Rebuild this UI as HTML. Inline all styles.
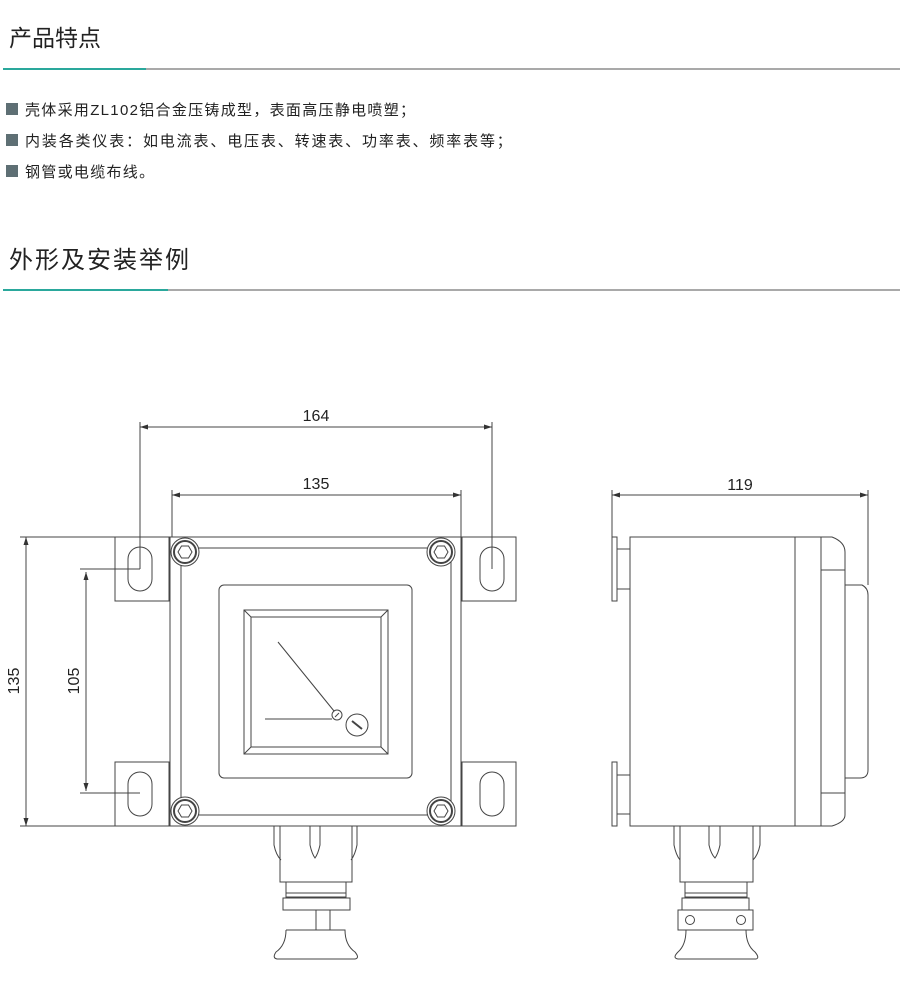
<!DOCTYPE html>
<html><head><meta charset="utf-8"><style>
html,body{margin:0;padding:0;background:#fff;}
body{width:900px;height:1000px;position:relative;overflow:hidden;font-family:"Liberation Sans","Noto Sans CJK SC",sans-serif;}
svg{position:absolute;left:0;top:0;}
</style></head><body>
<svg width="900" height="1000" viewBox="0 0 900 1000" xmlns="http://www.w3.org/2000/svg">
<g font-family="Liberation Sans, Noto Sans CJK SC, sans-serif" fill="#222">
<text x="9" y="46" font-size="23" letter-spacing="0">产品特点</text>
<text x="9" y="268" font-size="24" letter-spacing="2">外形及安装举例</text>
</g>
<rect x="3" y="68" width="897" height="2" fill="#a9a9a9"/>
<rect x="3" y="68" width="143" height="2" fill="#2aa89c"/>
<rect x="3" y="289" width="897" height="2" fill="#a9a9a9"/>
<rect x="3" y="289" width="165" height="2" fill="#2aa89c"/>
<g fill="#5e6f74">
<rect x="6" y="103" width="12" height="12"/>
<rect x="6" y="134" width="12" height="12"/>
<rect x="6" y="165" width="12" height="12"/>
</g>
<g font-family="Liberation Sans, Noto Sans CJK SC, sans-serif" font-size="15" fill="#222">
<text x="25" y="115" letter-spacing="1.3">壳体采用ZL102铝合金压铸成型，表面高压静电喷塑；</text>
<text x="25" y="146" letter-spacing="1.85">内装各类仪表：如电流表、电压表、转速表、功率表、频率表等；</text>
<text x="25" y="177" letter-spacing="1.3">钢管或电缆布线。</text>
</g>

<g stroke="#444" stroke-width="1" fill="none">
<line x1="140" y1="422" x2="140" y2="569"/>
<line x1="492" y1="422" x2="492" y2="569"/>
<line x1="140" y1="427" x2="492" y2="427"/>
<line x1="172" y1="490" x2="172" y2="537"/>
<line x1="461" y1="490" x2="461" y2="537"/>
<line x1="172" y1="495" x2="461" y2="495"/>
<line x1="20" y1="537" x2="170" y2="537"/>
<line x1="20" y1="826" x2="170" y2="826"/>
<line x1="26" y1="537" x2="26" y2="826"/>
<line x1="80" y1="569" x2="140" y2="569"/>
<line x1="80" y1="793" x2="140" y2="793"/>
<line x1="86" y1="572" x2="86" y2="791"/>
<rect x="115" y="537" width="54" height="64"/>
<rect x="115" y="762" width="54" height="64"/>
<rect x="462" y="537" width="54" height="64"/>
<rect x="462" y="762" width="54" height="64"/>
<rect x="128" y="547" width="24" height="44" rx="12"/>
<rect x="128" y="772" width="24" height="44" rx="12"/>
<rect x="480" y="547" width="24" height="44" rx="12"/>
<rect x="480" y="772" width="24" height="44" rx="12"/>
<rect x="170" y="537" width="291" height="289"/>
<rect x="181" y="548" width="270" height="267" rx="10"/>
<rect x="219" y="585" width="193" height="193" rx="5"/>
<rect x="244" y="610" width="144" height="144"/>
<rect x="251" y="617" width="130" height="130"/>
<line x1="244" y1="610" x2="251" y2="617"/><line x1="388" y1="610" x2="381" y2="617"/>
<line x1="244" y1="754" x2="251" y2="747"/><line x1="388" y1="754" x2="381" y2="747"/>
<line x1="278" y1="642" x2="334" y2="711"/>
<line x1="265" y1="719" x2="332" y2="719"/>
<circle cx="337" cy="715" r="5"/>
<line x1="335" y1="717" x2="339" y2="713"/>
<circle cx="357" cy="725" r="11"/>
<line x1="352" y1="721" x2="362" y2="729" stroke-width="2"/>
</g>
<g stroke="#444" fill="#fff" stroke-width="1">
<g><circle cx="185" cy="552" r="14"/><circle cx="185" cy="552" r="11" stroke-width="2"/><polygon points="178,552 181.5,546 188.5,546 192,552 188.5,558 181.5,558"/></g>
<g transform="translate(256,0)"><circle cx="185" cy="552" r="14"/><circle cx="185" cy="552" r="11" stroke-width="2"/><polygon points="178,552 181.5,546 188.5,546 192,552 188.5,558 181.5,558"/></g>
<g transform="translate(0,259)"><circle cx="185" cy="552" r="14"/><circle cx="185" cy="552" r="11" stroke-width="2"/><polygon points="178,552 181.5,546 188.5,546 192,552 188.5,558 181.5,558"/></g>
<g transform="translate(256,259)"><circle cx="185" cy="552" r="14"/><circle cx="185" cy="552" r="11" stroke-width="2"/><polygon points="178,552 181.5,546 188.5,546 192,552 188.5,558 181.5,558"/></g>
</g>
<g stroke="#444" fill="none" stroke-width="1">
<path d="M274,826 V845 Q276,855 281,860"/>
<path d="M357,826 V845 Q355,855 351,860"/>
<rect x="280" y="826" width="72" height="56"/>
<path d="M310,826 V845 Q312,854 315,858 Q318,854 320,845 V826"/>
<rect x="286" y="882" width="60" height="15"/>
<line x1="286" y1="893" x2="346" y2="893"/>
<rect x="283" y="898" width="67" height="12"/>
<rect x="316" y="910" width="14" height="20"/>
<path d="M286,930 H316 M330,930 H345 Q345,945 355,952 Q360,958 355,959 H277 Q272,958 276,952 Q286,945 286,930"/>
</g>
<g stroke="#444" fill="none" stroke-width="1">
<line x1="612" y1="490" x2="612" y2="537"/>
<line x1="868" y1="490" x2="868" y2="585"/>
<line x1="612" y1="495" x2="868" y2="495"/>
<rect x="612" y="537" width="5" height="64"/>
<rect x="612" y="762" width="5" height="64"/>
<rect x="617" y="549" width="13" height="40"/>
<rect x="617" y="775" width="13" height="39"/>
<rect x="630" y="537" width="165" height="289"/>
<path d="M795,537 H832 Q845,542 845,552 V815 Q845,822 832,826 H795"/>
<line x1="821" y1="537" x2="821" y2="826"/>
<line x1="821" y1="570" x2="845" y2="570"/>
<line x1="821" y1="793" x2="845" y2="793"/>
<path d="M845,585 H862 Q868,588 868,595 V770 Q868,778 860,778 H845"/>
<path d="M674,826 V845 Q676,855 680,860"/>
<path d="M760,826 V845 Q758,855 753,860"/>
<rect x="680" y="826" width="73" height="56"/>
<path d="M709,826 V845 Q711,854 715,858 Q718,854 720,845 V826"/>
<rect x="685" y="882" width="62" height="15"/>
<line x1="685" y1="893" x2="747" y2="893"/>
<rect x="682" y="898" width="67" height="12"/>
<rect x="678" y="910" width="75" height="20"/>
<circle cx="690" cy="920" r="4.5"/><circle cx="741" cy="920" r="4.5"/>
<path d="M686,930 Q686,945 678,952 Q672,958 678,959 H756 Q760,958 755,952 Q746,945 746,930"/>
</g>
<g fill="#333">
<path d="M140,427 l8,-2.5 v5z M492,427 l-8,-2.5 v5z"/>
<path d="M172,495 l8,-2.5 v5z M461,495 l-8,-2.5 v5z"/>
<path d="M612,495 l8,-2.5 v5z M868,495 l-8,-2.5 v5z"/>
<path d="M26,537 l-2.5,8 h5z M26,826 l-2.5,-8 h5z"/>
<path d="M86,572 l-2.5,8 h5z M86,791 l-2.5,-8 h5z"/>
</g>
<g font-family="Liberation Sans, sans-serif" font-size="16" fill="#222" text-anchor="middle">
<text x="316" y="421">164</text>
<text x="316" y="489">135</text>
<text x="740" y="490">119</text>
<text transform="translate(19,681) rotate(-90)">135</text>
<text transform="translate(79,681) rotate(-90)">105</text>
</g>
</svg>
</body></html>
